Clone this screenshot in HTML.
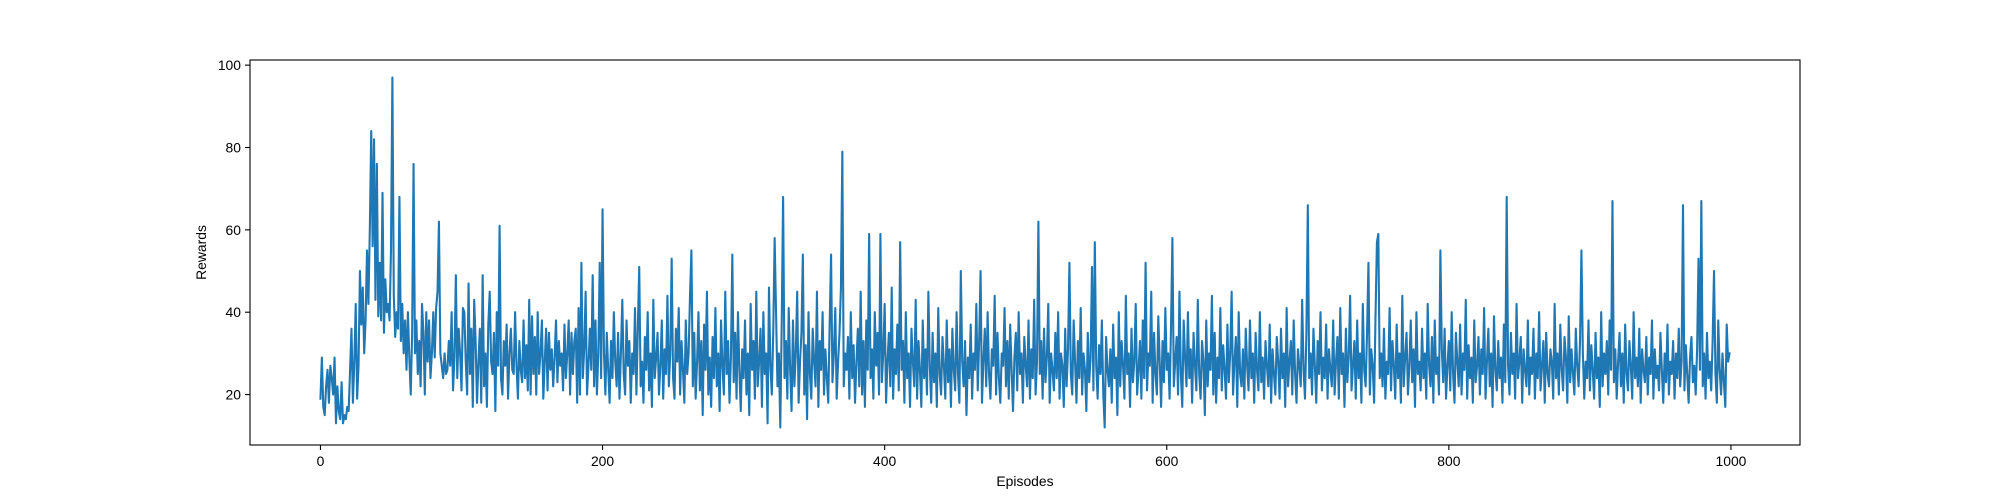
<!DOCTYPE html>
<html><head><meta charset="utf-8"><style>
html,body{margin:0;padding:0;background:#fff;}
svg{display:block;font-family:"Liberation Sans","DejaVu Sans",sans-serif;}
</style></head><body>
<svg id="chart" width="2000" height="500" xmlns="http://www.w3.org/2000/svg">
<rect x="0" y="0" width="2000" height="500" fill="#fff"/>
<g id="marks"></g>
<g id="axes"></g>
</svg>
<script>
const xTicks=[0,200,400,600,800,1000];
const yTicks=[20,40,60,80,100];
const rewards=[
19,29,17,15,22,26,18,27,24,20,29,13,22,16,14,23,13,15,14,17,
16,26,36,18,28,42,19,27,50,37,46,30,38,55,42,60,84,56,82,43,
76,39,52,38,69,35,48,40,42,38,55,97,44,34,40,36,68,33,42,30,
38,26,40,29,20,35,76,30,38,25,33,22,42,35,20,40,28,38,24,30,
40,29,41,45,62,30,27,24,30,25,26,33,27,40,21,29,49,24,36,30,
21,41,40,28,20,47,25,36,17,43,33,18,28,36,18,49,22,30,17,37,
45,28,25,35,16,40,27,61,24,20,33,27,37,19,30,36,26,25,40,27,
19,33,26,23,38,24,32,21,43,20,39,25,34,20,40,25,30,38,19,28,
36,21,35,26,31,22,29,38,23,33,27,30,21,37,24,30,38,20,35,25,
33,36,18,41,20,52,24,31,45,20,27,36,26,49,22,38,20,30,52,24,
65,30,20,35,26,18,33,24,40,28,22,35,19,30,43,25,20,38,27,33,
18,30,25,41,20,36,51,22,28,18,34,26,40,21,30,17,43,24,29,35,
20,27,38,19,31,25,44,22,30,53,24,19,36,28,41,20,33,26,18,38,
25,30,44,55,22,35,19,28,40,21,33,15,37,26,45,20,29,17,34,24,
41,22,30,16,38,27,20,45,25,33,18,29,54,23,35,19,40,26,16,31,
24,38,20,30,15,42,26,33,19,45,22,28,36,17,40,25,30,13,46,27,
20,35,58,40,22,30,12,37,68,24,33,19,41,26,16,38,22,30,45,18,
28,35,54,20,32,14,40,25,19,36,28,22,45,17,33,26,40,20,31,24,
18,37,54,23,30,41,19,28,35,46,79,22,30,26,34,19,40,24,32,18,
28,36,22,45,20,33,17,38,26,59,24,31,19,40,27,35,20,59,23,30,
42,18,28,35,22,46,19,31,25,37,21,57,26,33,18,40,24,30,17,36,
28,22,43,19,33,26,17,38,24,31,20,45,27,18,35,23,30,17,41,25,
20,34,27,19,38,23,31,17,36,26,21,40,25,18,50,28,22,33,15,29,
24,37,19,30,26,42,21,33,50,18,28,36,22,40,25,19,31,27,44,20,
35,24,18,30,27,41,22,33,19,37,26,16,29,35,21,40,25,30,18,34,
27,22,38,19,31,24,43,20,28,62,25,33,19,36,23,29,42,18,30,26,
21,35,24,40,19,30,27,17,36,22,31,52,25,20,38,28,18,33,24,41,
20,30,26,16,35,23,29,51,21,57,27,19,32,25,38,20,12,34,26,22,
31,18,37,24,29,15,40,22,33,27,19,44,25,30,17,36,23,28,42,20,
26,33,19,38,24,52,21,30,27,45,18,35,25,20,39,28,17,33,23,41,
26,30,19,36,58,22,28,34,20,45,25,17,38,29,22,40,24,31,18,35,
27,21,43,25,19,33,28,15,38,22,30,26,44,20,35,18,29,24,41,21,
32,26,19,37,23,30,45,20,28,34,17,40,25,22,31,19,36,27,21,38,
24,30,18,35,26,21,40,23,29,19,33,27,22,37,18,31,25,20,34,28,
19,36,24,30,17,41,22,28,33,20,38,25,18,31,27,22,43,26,19,35,
66,24,30,20,36,27,18,33,25,40,21,29,24,37,19,31,26,22,38,20,
28,34,19,41,25,30,17,36,23,29,44,21,27,33,19,38,24,30,18,42,
26,22,35,52,20,31,27,18,39,57,59,24,30,22,36,19,28,25,41,21,
33,27,19,37,24,30,18,44,22,29,35,20,27,38,23,31,17,40,25,28,
21,36,24,30,19,42,27,22,34,18,38,25,29,20,55,31,23,36,19,27,
33,21,40,25,18,35,28,22,37,20,30,26,43,19,32,24,29,18,38,23,
27,34,20,31,25,41,19,28,36,22,30,17,39,26,21,33,24,29,18,37,
23,68,27,20,35,25,30,19,42,24,28,34,18,31,26,22,38,20,29,25,
36,19,30,24,40,21,27,33,18,35,25,22,31,28,19,42,24,30,20,37,
26,21,34,29,18,39,23,31,25,20,36,27,22,33,55,30,19,28,24,38,
21,32,26,19,35,24,29,17,40,22,30,25,33,20,38,26,67,23,31,19,
28,35,22,30,18,37,25,21,33,27,19,40,24,29,22,36,18,31,26,23,
34,20,29,25,38,19,31,24,27,21,35,26,18,30,23,37,20,28,25,33,
19,30,24,36,22,28,66,21,32,25,18,29,34,23,27,20,31,53,26,67,
22,30,19,35,24,28,21,33,50,25,18,38,26,20,30,23,17,37,28,30
];
const NS='http://www.w3.org/2000/svg';
const L=250,R=1800,T=60,B=445;
const n=rewards.length;
const xMin=-0.05*(n-1),xMax=(n-1)*1.05;
const yLo=Math.min(...rewards),yHi=Math.max(...rewards);
const yMin=yLo-0.05*(yHi-yLo),yMax=yHi+0.05*(yHi-yLo);
function sx(v){return L+(v-xMin)/(xMax-xMin)*(R-L);}
function sy(v){return B-(v-yMin)/(yMax-yMin)*(B-T);}
function mk(tag,attrs,parent){const e=document.createElementNS(NS,tag);for(const k in attrs)e.setAttribute(k,attrs[k]);parent.appendChild(e);return e;}
const marks=document.getElementById('marks');
const axes=document.getElementById('axes');
const pts=rewards.map((v,i)=>sx(i).toFixed(2)+','+sy(v).toFixed(2)).join(' ');
const line=mk('polyline',{points:pts,fill:'none',stroke:'#1f77b4','stroke-width':2.1,'stroke-linejoin':'round','stroke-linecap':'square'},marks);


const frame=mk('rect',{x:L,y:T,width:R-L,height:B-T,fill:'none',stroke:'#000','stroke-width':1.1},axes);


xTicks.forEach(t=>{
  const x=sx(t);
  const tk=mk('line',{x1:x,x2:x,y1:B,y2:B+5,stroke:'#000','stroke-width':1.1},axes);
  
  
  const lb=mk('text',{x:x,y:B+21,'text-anchor':'middle','font-size':'13.9px',fill:'#000'},axes);
  lb.textContent=t;
  
  
});
yTicks.forEach(t=>{
  const y=sy(t);
  const tk=mk('line',{x1:L-5,x2:L,y1:y,y2:y,stroke:'#000','stroke-width':1.1},axes);
  
  
  const lb=mk('text',{x:L-9,y:y+5,'text-anchor':'end','font-size':'13.9px',fill:'#000'},axes);
  lb.textContent=t;
  
  
});
const xt=mk('text',{x:(L+R)/2,y:486,'text-anchor':'middle','font-size':'13.9px',fill:'#000'},axes);
xt.textContent='Episodes';


const yt=mk('text',{x:0,y:0,'text-anchor':'middle','font-size':'13.9px',fill:'#000',transform:'translate(206,'+((T+B)/2)+') rotate(-90)'},axes);
yt.textContent='Rewards';


</script>
</body></html>
